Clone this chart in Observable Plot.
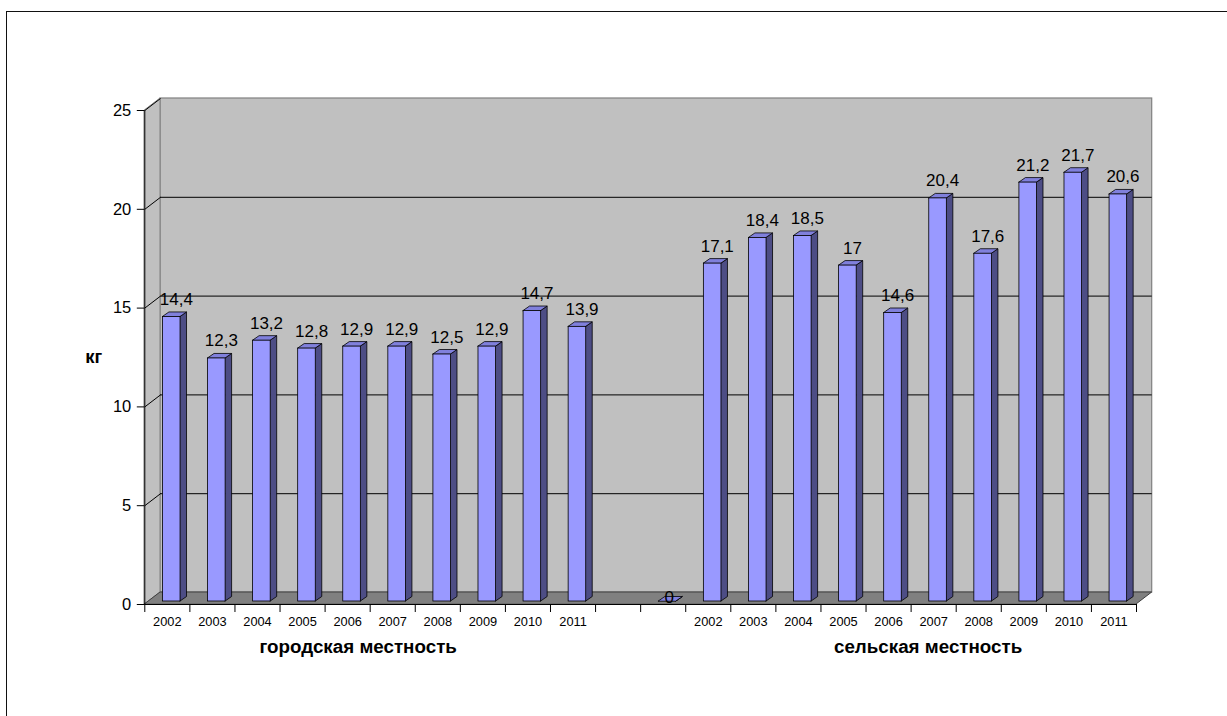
<!DOCTYPE html>
<html>
<head>
<meta charset="utf-8">
<script src="https://cdn.jsdelivr.net/npm/d3@7"></script>
<script src="https://cdn.jsdelivr.net/npm/@observablehq/plot@0.6"></script>
<style>
  html, body { margin: 0; padding: 0; background: #fff; overflow: hidden; width: 1227px; height: 716px; }
  #frame { position: absolute; left: 6px; top: 11px; width: 1400px; height: 900px; border: 1.5px solid #111; }
  #chart { position: absolute; left: 0; top: 0; }
</style>
</head>
<body>
<div id="frame"></div>
<div id="chart"></div>
<script>
// ---- data ----
const years = ["2002", "2003", "2004", "2005", "2006", "2007", "2008", "2009", "2010", "2011"];
const urban = [14.4, 12.3, 13.2, 12.8, 12.9, 12.9, 12.5, 12.9, 14.7, 13.9];
const rural = [17.1, 18.4, 18.5, 17, 14.6, 20.4, 17.6, 21.2, 21.7, 20.6];
const separatorLabels = ["", ""];
const separatorValues = [null, 0];
const groups = ["городская местность", "сельская местность"];
const yTicks = [0, 5, 10, 15, 20, 25];

// ---- derived table ----
const categories = [...years, ...separatorLabels, ...years];
const values = [...urban, ...separatorValues, ...rural];
const nSlots = categories.length;
const yMax = yTicks[yTicks.length - 1];
const slots = categories.map((label, i) => ({i, label, v: values[i]}));
const bars = slots.filter(d => d.v !== null && d.v !== undefined);
const groupSlots = [
  {name: groups[0], start: 0, end: urban.length},
  {name: groups[1], start: urban.length + separatorLabels.length, end: nSlots}
];

// ---- layout ----
const W = 1227, H = 716;
const mL = 144.3, mR = 91, mT = 110, mB = 112;
const pxX = (W - mL - mR) / nSlots;
const pxY = (H - mT - mB) / yMax;
// wall depth (px) and bar depth (px), converted to data units
const WDX = 15.7, WDY = 12;
const wdx = WDX / pxX, wdy = WDY / pxY;
const BDX = 6.5, BDY = 4.5;
const bdx = BDX / pxX, bdy = BDY / pxY;
const BSX = 4.4, BSY = -3; // bar placement inside depth
const bl = 0.305, br = 0.695;
const groupShiftPx = [-12, 17]; // horizontal placement of group captions

const fmt = v => String(v).replace(".", ",");

const sidePts = bars.flatMap(d => [
  {i: d.i, x: d.i + br, y1: 0, y2: d.v},
  {i: d.i, x: d.i + br + bdx, y1: bdy, y2: d.v + bdy}
]);
const topPts = bars.flatMap(d => [
  {i: d.i, y: d.v, x1: d.i + bl, x2: d.i + br},
  {i: d.i, y: d.v + bdy, x1: d.i + bl + bdx, x2: d.i + br + bdx}
]);

const plot = Plot.plot({
  width: W, height: H,
  marginLeft: mL, marginRight: mR, marginTop: mT, marginBottom: mB,
  x: {type: "linear", domain: [0, nSlots], axis: null},
  y: {type: "linear", domain: [0, yMax], axis: null},
  style: {fontFamily: "Arial, 'Liberation Sans', sans-serif", color: "#000", background: "transparent", overflow: "visible"},
  marks: [
    // back wall
    Plot.rect([0], {x1: () => 0, x2: () => nSlots, y1: () => 0, y2: () => yMax, dx: WDX, dy: -WDY, fill: "#c0c0c0", stroke: "#808080", strokeWidth: 1.2}),
    // left side wall
    Plot.areaY([{x: 0, y1: 0, y2: yMax}, {x: wdx, y1: wdy, y2: yMax + wdy}], {x: "x", y1: "y1", y2: "y2", fill: "#c0c0c0", stroke: "#808080", strokeWidth: 1}),
    // floor
    Plot.areaX([{y: 0, x1: 0, x2: nSlots}, {y: wdy, x1: wdx, x2: nSlots + wdx}], {y: "y", x1: "x1", x2: "x2", fill: "#808080", stroke: "#404040", strokeWidth: 1}),
    // gridlines on back wall
    Plot.ruleY(yTicks.filter(v => v > 0 && v < yMax), {x1: () => 0, x2: () => nSlots, dx: WDX, dy: -WDY, stroke: "#000", strokeWidth: 1}),
    // gridlines on side wall
    Plot.link(yTicks.filter(v => v > 0), {x1: () => 0, y1: d => d, x2: () => wdx, y2: d => d + wdy, stroke: "#000", strokeWidth: 1}),
    // bars: side faces
    Plot.areaY(sidePts, {x: "x", y1: "y1", y2: "y2", z: "i", fill: "#4d4d85", stroke: "#000", strokeWidth: 0.8, dx: BSX, dy: BSY}),
    // bars: top faces
    Plot.areaX(topPts, {y: "y", x1: "x1", x2: "x2", z: "i", fill: "#8080dc", stroke: "#000", strokeWidth: 0.8, dx: BSX, dy: BSY}),
    // bars: front faces
    Plot.rect(bars, {x1: d => d.i + bl, x2: d => d.i + br, y1: () => 0, y2: "v", fill: "#9999ff", stroke: "#000", strokeWidth: 0.8, dx: BSX, dy: BSY}),
    // front axes lines
    Plot.ruleY([0], {x1: () => 0, x2: () => nSlots, stroke: "#000", strokeWidth: 1}),
    Plot.ruleX([0], {y1: () => 0, y2: () => yMax, stroke: "#000", strokeWidth: 1}),
    // y axis
    Plot.axisY(yTicks, {anchor: "left", tickSize: 7.5, tickPadding: 6, fontSize: 16.5, label: null, stroke: "#000"}),
    // x axis ticks at category boundaries
    Plot.axisX(d3.range(0, nSlots + 1), {anchor: "bottom", tickSize: 8, tickFormat: () => "", label: null, stroke: "#000"}),
    // year labels
    Plot.text(slots, {x: d => d.i + 0.5, text: "label", frameAnchor: "bottom", dy: 21, fontSize: 12.8, fill: "#000"}),
    // value labels (non-zero)
    Plot.text(bars.filter(d => d.v !== 0), {x: d => d.i + 0.5, y: "v", text: d => fmt(d.v), dx: 9, dy: BSY - 12, lineAnchor: "bottom", fontSize: 17, fill: "#000"}),
    // value labels (zero bar: drawn on the flat bar)
    Plot.text(bars.filter(d => d.v === 0), {x: d => d.i + 0.5, y: "v", text: d => fmt(d.v), dx: 6, dy: BSY - 4, lineAnchor: "middle", fontSize: 17, fill: "#000"}),
    // group labels
    Plot.text(groupSlots, {x: (d, k) => (d.start + d.end) / 2 + groupShiftPx[k] / pxX, text: "name", frameAnchor: "bottom", dy: 48, fontSize: 18.8, fontWeight: "bold", fill: "#000"}),
    // y axis title
    Plot.text(["кг"], {frameAnchor: "left", dx: -51, fontSize: 18.5, fontWeight: "bold", textAnchor: "middle", fill: "#000"})
  ]
});
document.getElementById("chart").appendChild(plot);
</script>
</body>
</html>
